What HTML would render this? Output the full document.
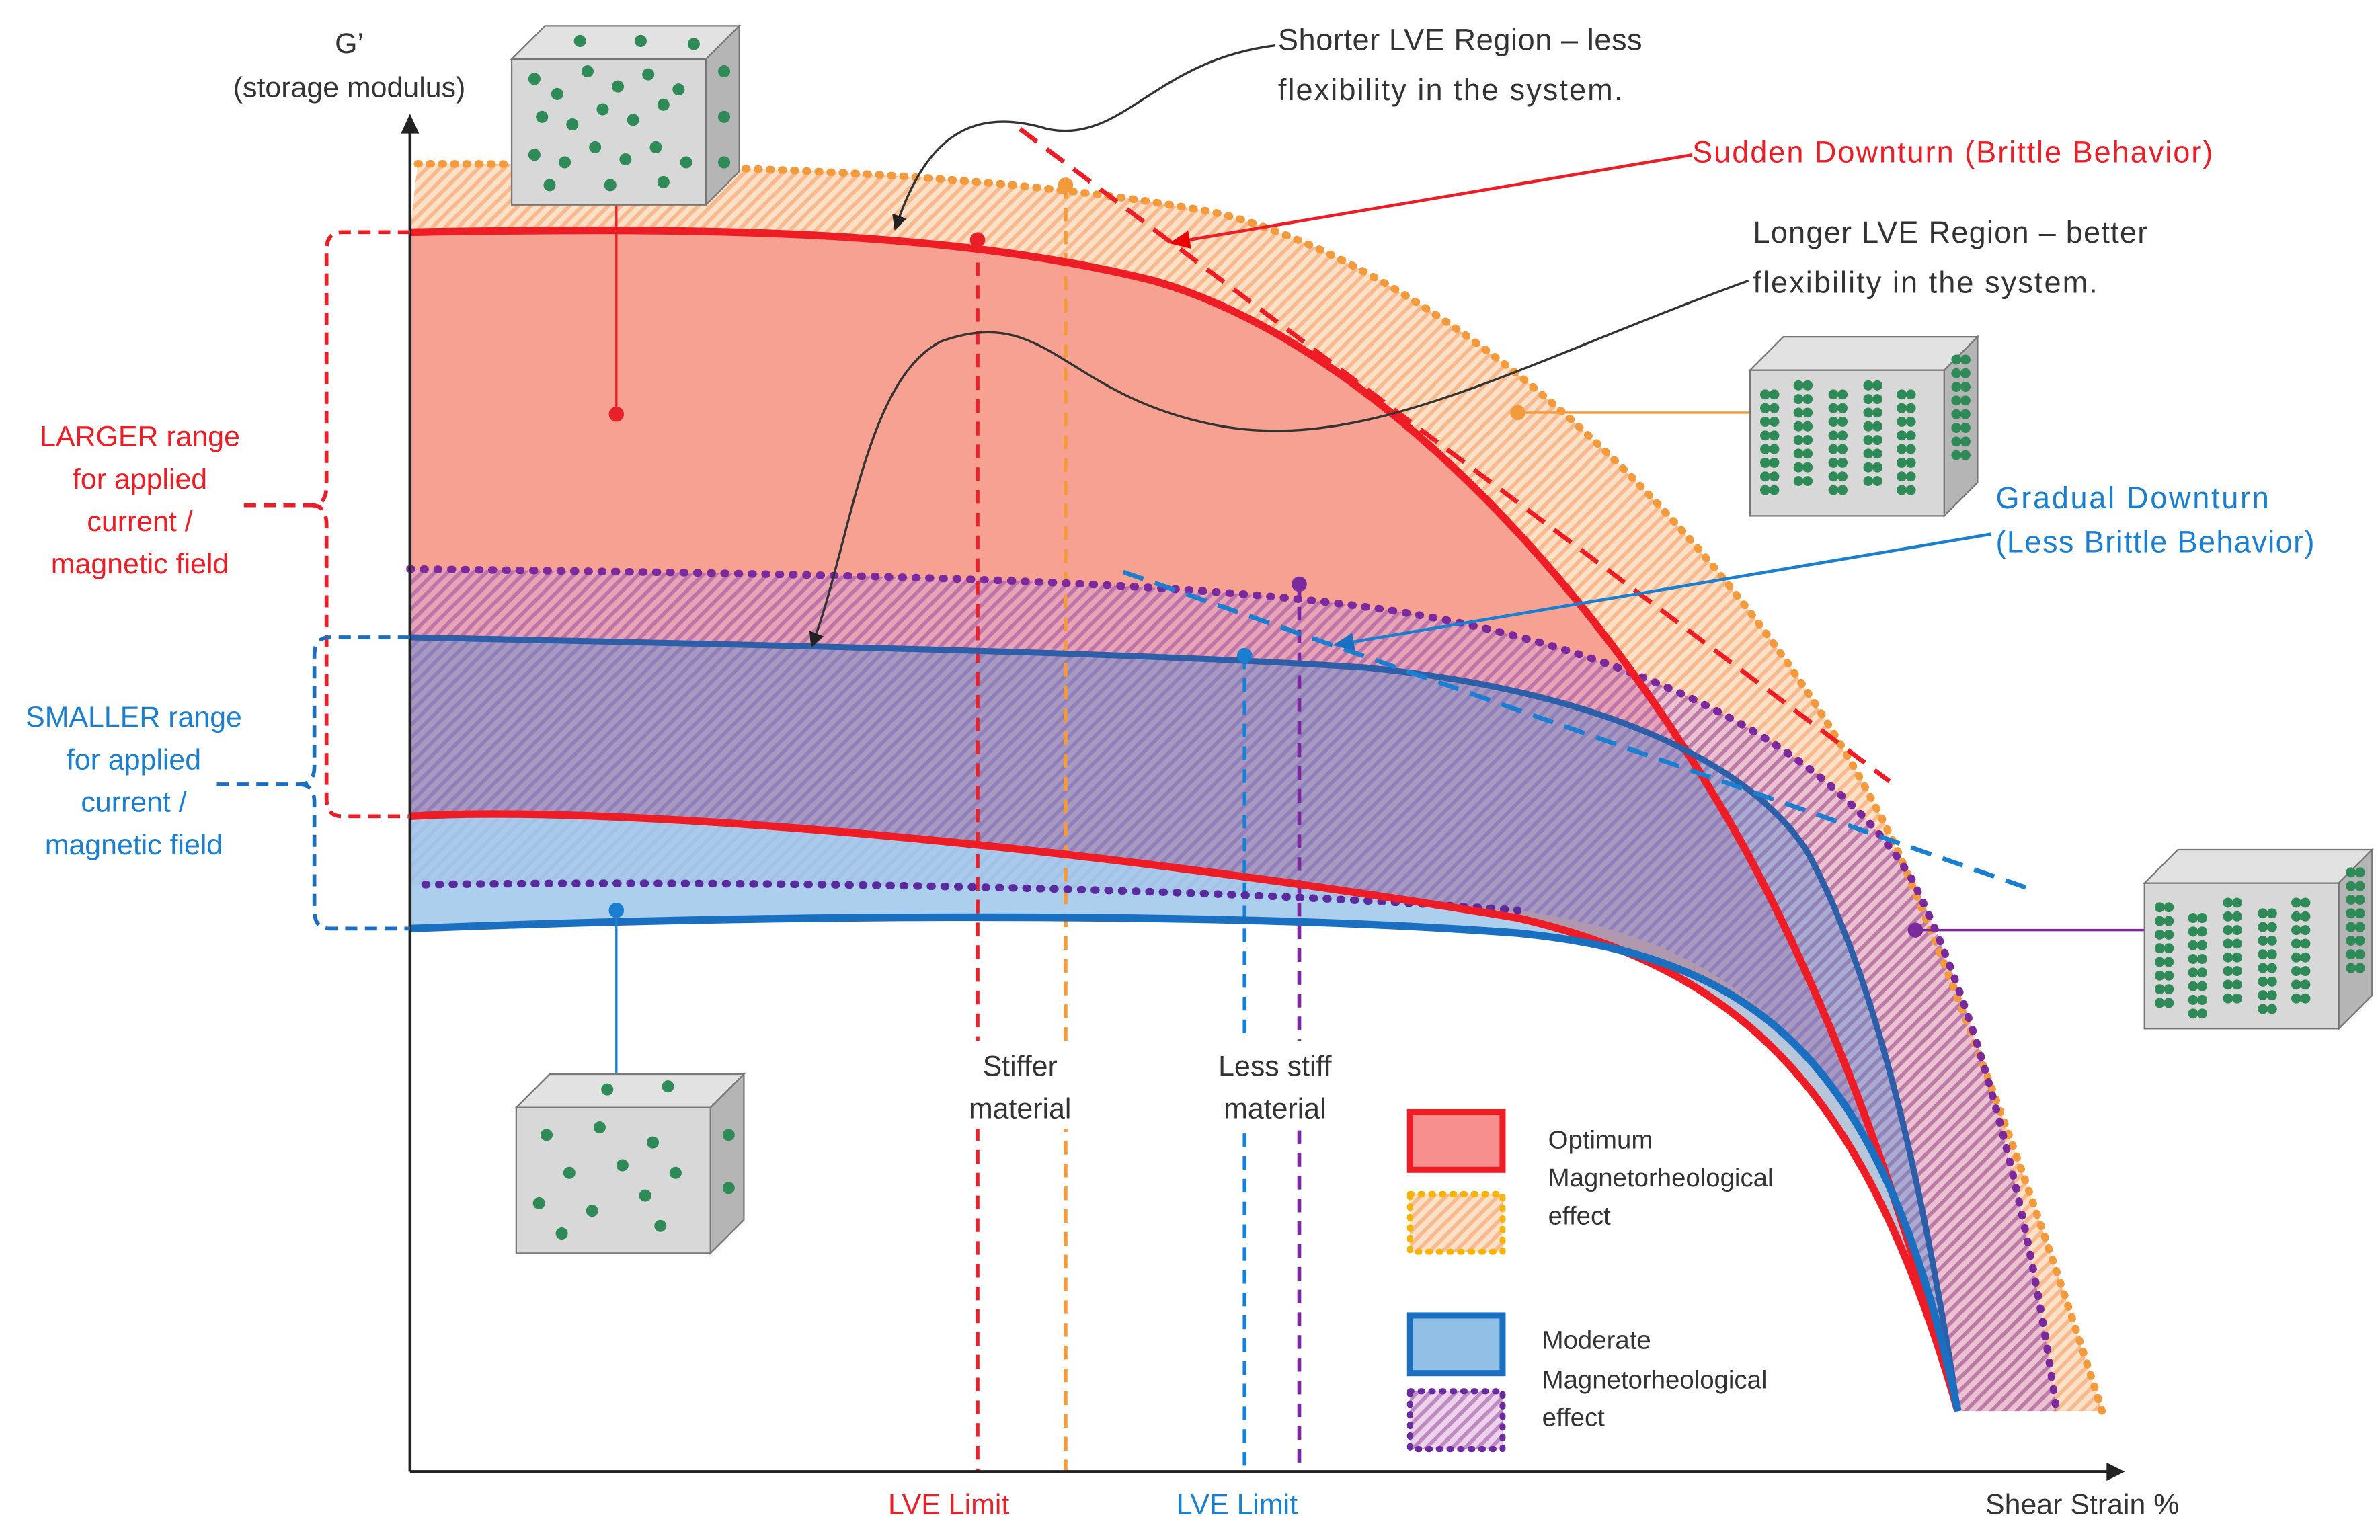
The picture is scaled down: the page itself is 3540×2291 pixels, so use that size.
<!DOCTYPE html>
<html><head><meta charset="utf-8"><style>
html,body{margin:0;padding:0;background:#fff;}
svg{display:block;}
text{font-family:"Liberation Sans",sans-serif;}
</style></head><body>
<svg width="3540" height="2291" viewBox="0 0 1568 1015" xmlns="http://www.w3.org/2000/svg">
<defs>
<pattern id="ho" width="6" height="6" patternUnits="userSpaceOnUse" patternTransform="rotate(45)">
<rect width="6" height="6" fill="#fde0c8"/><rect width="2.5" height="6" fill="#f8b98c"/></pattern>
<pattern id="hp" width="6" height="6" patternUnits="userSpaceOnUse" patternTransform="rotate(45)">
<rect width="6" height="6" fill="#d9a6d8" fill-opacity="0.5"/><rect width="2.5" height="6" fill="#9b4f9e" fill-opacity="0.55"/></pattern>
<marker id="ar" markerWidth="10" markerHeight="10" refX="8" refY="5" orient="auto" markerUnits="userSpaceOnUse"><path d="M0,0 L10,5 L0,10 z" fill="#222"/></marker>
<marker id="arr" markerWidth="14" markerHeight="12" refX="12" refY="6" orient="auto" markerUnits="userSpaceOnUse"><path d="M0,0 L14,6 L0,12 z" fill="#e00"/></marker>
<marker id="arb" markerWidth="14" markerHeight="12" refX="12" refY="6" orient="auto" markerUnits="userSpaceOnUse"><path d="M0,0 L14,6 L0,12 z" fill="#1a6fc0"/></marker>
<g id="cube">
<polygon points="0,22 22,0 150,0 128,22" fill="#e2e2e2" stroke="#777"/>
<polygon points="128,22 150,0 150,96 128,118" fill="#b5b5b5" stroke="#777"/>
<rect x="0" y="22" width="128" height="96" fill="#d8d8d8" stroke="#777"/>
</g>
<g id="col" fill="#2e8b57">
<circle cx="0" cy="0" r="3.3"/><circle cx="6" cy="0" r="3.3"/><circle cx="0" cy="9" r="3.3"/><circle cx="6" cy="9" r="3.3"/><circle cx="0" cy="18" r="3.3"/><circle cx="6" cy="18" r="3.3"/><circle cx="0" cy="27" r="3.3"/><circle cx="6" cy="27" r="3.3"/><circle cx="0" cy="36" r="3.3"/><circle cx="6" cy="36" r="3.3"/><circle cx="0" cy="45" r="3.3"/><circle cx="6" cy="45" r="3.3"/><circle cx="0" cy="54" r="3.3"/><circle cx="6" cy="54" r="3.3"/><circle cx="0" cy="63" r="3.3"/><circle cx="6" cy="63" r="3.3"/></g>
</defs>

<!-- orange hatched region -->
<path d="M275,108 C450,108 650,112 800,140 C950,175 1150,350 1250,560 C1310,700 1360,850 1385,930 L1290,930 C1260,820 1220,690 1150,560 C1050,380 900,225 760,185 C620,150 450,150 270,153 Z" fill="url(#ho)"/>
<!-- red fill -->
<path d="M270,153 C450,150 620,150 760,185 C900,225 1050,380 1150,560 C1220,690 1260,820 1290,930 C1230,720 1150,640 1000,605 C700,555 400,530 270,538 Z" fill="#f6a192"/>
<!-- purple hatched -->
<path d="M270,375 C500,378 750,380 900,400 C1050,420 1200,480 1260,580 C1310,680 1340,820 1355,930 L1290,930 C1240,700 1150,620 1000,600 C800,585 500,580 270,583 Z" fill="url(#hp)"/>
<!-- blue fill -->
<path d="M270,420 C500,425 750,430 900,440 C1050,455 1150,500 1190,560 C1240,650 1270,800 1290,930 C1240,690 1150,630 1000,615 C800,600 500,603 270,612 Z" fill="#5b8fd0" fill-opacity="0.45"/>
<path d="M270,538 C400,530 700,555 1000,605 C1150,640 1230,720 1290,930 C1240,690 1150,630 1000,615 C800,600 500,603 270,612 Z" fill="#a9cfee" fill-opacity="0.8"/>

<!-- vertical dashed lines -->
<g stroke-width="2.5" stroke-dasharray="9,6" fill="none">
<line x1="644" y1="158" x2="644" y2="970" stroke="#e8202a"/>
<line x1="702" y1="122" x2="702" y2="970" stroke="#f39a3c"/>
<line x1="820" y1="432" x2="820" y2="970" stroke="#1a7fd0"/>
<line x1="856" y1="385" x2="856" y2="970" stroke="#7b2a9e"/>
</g>
<rect x="625" y="686" width="95" height="58" fill="#fff"/>
<rect x="792" y="686" width="100" height="58" fill="#fff"/>
<text x="672" y="709" font-size="19" text-anchor="middle" fill="#333">Stiffer</text>
<text x="672" y="737" font-size="19" text-anchor="middle" fill="#333">material</text>
<text x="840" y="709" font-size="19" text-anchor="middle" fill="#333">Less stiff</text>
<text x="840" y="737" font-size="19" text-anchor="middle" fill="#333">material</text>

<!-- curves -->
<path d="M275,108 C450,108 650,112 800,140 C950,175 1150,350 1250,560 C1310,700 1360,850 1385,930" fill="none" stroke="#f39a3c" stroke-width="5" stroke-dasharray="1,7" stroke-linecap="round"/>
<path d="M270,375 C500,378 750,380 900,400 C1050,420 1200,480 1260,580 C1310,680 1340,820 1355,930" fill="none" stroke="#7b2a9e" stroke-width="5" stroke-dasharray="1,8" stroke-linecap="round"/>
<path d="M280,583 C500,580 800,585 1000,600" fill="none" stroke="#5b2a9e" stroke-width="5" stroke-dasharray="1,8" stroke-linecap="round"/>
<path d="M270,153 C450,150 620,150 760,185 C900,225 1050,380 1150,560 C1220,690 1260,820 1290,930" fill="none" stroke="#ee1c25" stroke-width="5"/>
<path d="M270,538 C400,530 700,555 1000,605 C1150,640 1230,720 1290,930" fill="none" stroke="#ee1c25" stroke-width="5"/>
<path d="M270,420 C500,425 750,430 900,440 C1050,455 1150,500 1190,560 C1240,650 1270,800 1290,930" fill="none" stroke="#2c5fa8" stroke-width="4"/>
<path d="M270,612 C500,603 800,600 1000,615 C1150,630 1240,690 1290,930" fill="none" stroke="#1a6fc0" stroke-width="5"/>

<!-- slope dashed -->
<line x1="672" y1="85" x2="1245" y2="515" stroke="#ee1c25" stroke-width="3" stroke-dasharray="14,8"/>
<line x1="740" y1="377" x2="1335" y2="585" stroke="#1a7fd0" stroke-width="3" stroke-dasharray="14,8"/>

<!-- axes -->
<line x1="270" y1="970" x2="270" y2="82" stroke="#222" stroke-width="2"/>
<path d="M264,88 L270,75 L276,88 z" fill="#222"/>
<line x1="270" y1="970" x2="1392" y2="970" stroke="#222" stroke-width="2"/>
<path d="M1388,964 L1400,970 L1388,976 z" fill="#222"/>
<text x="230" y="35" font-size="19" text-anchor="middle" fill="#333">G’</text>
<text x="230" y="64" font-size="19" text-anchor="middle" fill="#333">(storage modulus)</text>
<text x="1372" y="998" font-size="19" text-anchor="middle" fill="#333">Shear Strain %</text>
<text x="625" y="998" font-size="19" text-anchor="middle" fill="#e8202a">LVE Limit</text>
<text x="815" y="998" font-size="19" text-anchor="middle" fill="#1a7fd0">LVE Limit</text>

<circle cx="644" cy="158" r="5" fill="#e8202a"/>
<circle cx="702" cy="122" r="5" fill="#f39a3c"/>
<circle cx="820" cy="432" r="5" fill="#1a7fd0"/>
<circle cx="856" cy="385" r="5" fill="#7b2a9e"/>

<!-- brackets -->
<path d="M270,153 L225,153 Q215,153 215,165 L215,320 Q215,333 205,333 L160,333 M205,333 Q215,333 215,346 L215,526 Q215,538 225,538 L270,538" fill="none" stroke="#ee1c25" stroke-width="2.5" stroke-dasharray="8,5"/>
<path d="M270,420 L217,420 Q207,420 207,432 L207,505 Q207,517 197,517 L140,517 M197,517 Q207,517 207,529 L207,600 Q207,612 217,612 L270,612" fill="none" stroke="#1a6fc0" stroke-width="2.5" stroke-dasharray="8,5"/>
<g font-size="19" text-anchor="middle" fill="#ee1c25">
<text x="92" y="294">LARGER range</text><text x="92" y="322">for applied</text><text x="92" y="350">current /</text><text x="92" y="378">magnetic field</text></g>
<g font-size="19" text-anchor="middle" fill="#1a7fd0">
<text x="88" y="479">SMALLER range</text><text x="88" y="507">for applied</text><text x="88" y="535">current /</text><text x="88" y="563">magnetic field</text></g>

<!-- annotations -->
<text x="842" y="33" font-size="20" fill="#333" textLength="240">Shorter LVE Region – less</text>
<text x="842" y="66" font-size="20" fill="#333" textLength="227">flexibility in the system.</text>
<path d="M840,30 C760,40 740,95 690,85 C640,70 610,90 590,150" fill="none" stroke="#333" stroke-width="1.5" marker-end="url(#ar)"/>
<text x="1115" y="107" font-size="20" fill="#ee1c25" textLength="343">Sudden Downturn (Brittle Behavior)</text>
<line x1="1115" y1="102" x2="772" y2="160" stroke="#ee1c25" stroke-width="2" marker-end="url(#arr)"/>
<text x="1155" y="160" font-size="20" fill="#333" textLength="260">Longer LVE Region – better</text>
<text x="1155" y="193" font-size="20" fill="#333" textLength="227">flexibility in the system.</text>
<path d="M1152,185 C1000,240 900,300 800,280 C700,260 690,200 620,225 C570,250 560,360 535,425" fill="none" stroke="#333" stroke-width="1.5" marker-end="url(#ar)"/>
<text x="1315" y="335" font-size="20" fill="#1a7fd0" textLength="180">Gradual Downturn</text>
<text x="1315" y="364" font-size="20" fill="#1a7fd0" textLength="210">(Less Brittle Behavior)</text>
<line x1="1312" y1="352" x2="880" y2="425" stroke="#1a7fd0" stroke-width="2" marker-end="url(#arb)"/>

<!-- cube leaders -->
<line x1="406" y1="130" x2="406" y2="273" stroke="#e8202a" stroke-width="1.5"/><circle cx="406" cy="273" r="5" fill="#e8202a"/>
<line x1="406" y1="600" x2="406" y2="710" stroke="#1a7fd0" stroke-width="1.5"/><circle cx="406" cy="600" r="5" fill="#1a7fd0"/>
<line x1="1000" y1="272" x2="1155" y2="272" stroke="#f39a3c" stroke-width="1.5"/><circle cx="1000" cy="272" r="5" fill="#f39a3c"/>
<line x1="1262" y1="613" x2="1415" y2="613" stroke="#7b2a9e" stroke-width="1.5"/><circle cx="1262" cy="613" r="5" fill="#7b2a9e"/>

<!-- cubes -->
<g transform="translate(337,17)"><use href="#cube"/>
<g fill="#2e8b57">
<circle cx="15" cy="35" r="4"/><circle cx="30" cy="45" r="4"/><circle cx="50" cy="30" r="4"/><circle cx="70" cy="40" r="4"/><circle cx="90" cy="32" r="4"/><circle cx="110" cy="42" r="4"/><circle cx="20" cy="60" r="4"/><circle cx="40" cy="65" r="4"/><circle cx="60" cy="55" r="4"/><circle cx="80" cy="62" r="4"/><circle cx="100" cy="52" r="4"/><circle cx="15" cy="85" r="4"/><circle cx="35" cy="90" r="4"/><circle cx="55" cy="80" r="4"/><circle cx="75" cy="88" r="4"/><circle cx="95" cy="80" r="4"/><circle cx="115" cy="90" r="4"/><circle cx="25" cy="105" r="4"/><circle cx="65" cy="105" r="4"/><circle cx="100" cy="103" r="4"/><circle cx="45" cy="10" r="4"/><circle cx="85" cy="10" r="4"/><circle cx="120" cy="12" r="4"/><circle cx="140" cy="30" r="4"/><circle cx="140" cy="60" r="4"/><circle cx="140" cy="90" r="4"/></g></g>
<g transform="translate(340,708)"><use href="#cube"/>
<g fill="#2e8b57">
<circle cx="20" cy="40" r="4"/><circle cx="55" cy="35" r="4"/><circle cx="90" cy="45" r="4"/><circle cx="35" cy="65" r="4"/><circle cx="70" cy="60" r="4"/><circle cx="105" cy="65" r="4"/><circle cx="15" cy="85" r="4"/><circle cx="50" cy="90" r="4"/><circle cx="85" cy="80" r="4"/><circle cx="30" cy="105" r="4"/><circle cx="95" cy="100" r="4"/><circle cx="60" cy="10" r="4"/><circle cx="100" cy="8" r="4"/><circle cx="140" cy="40" r="4"/><circle cx="140" cy="75" r="4"/></g></g>
<g transform="translate(1153,222)"><use href="#cube"/>
<use href="#col" x="10" y="38"/><use href="#col" x="32" y="32"/><use href="#col" x="55" y="38"/><use href="#col" x="78" y="32"/><use href="#col" x="100" y="38"/><use href="#col" x="136" y="15"/></g>
<g transform="translate(1413,560)"><use href="#cube"/>
<use href="#col" x="10" y="38"/><use href="#col" x="32" y="45"/><use href="#col" x="55" y="35"/><use href="#col" x="78" y="42"/><use href="#col" x="100" y="35"/><use href="#col" x="136" y="15"/></g>

<!-- legend -->
<rect x="929" y="733" width="61" height="38" fill="#f78f8f" stroke="#ee1c25" stroke-width="4"/>
<rect x="929" y="787" width="61" height="38" fill="url(#ho)" stroke="#f8b400" stroke-width="4" stroke-dasharray="1,6" stroke-linecap="round"/>
<rect x="929" y="867" width="61" height="38" fill="#92bfe5" stroke="#1a6fc0" stroke-width="4"/>
<rect x="929" y="917" width="61" height="38" fill="url(#hp)" stroke="#6a2aa0" stroke-width="4" stroke-dasharray="1,6" stroke-linecap="round"/>
<g font-size="17" fill="#333">
<text x="1020" y="757">Optimum</text><text x="1020" y="782">Magnetorheological</text><text x="1020" y="807">effect</text>
<text x="1016" y="889">Moderate</text><text x="1016" y="915">Magnetorheological</text><text x="1016" y="940">effect</text></g>
</svg>
</body></html>
